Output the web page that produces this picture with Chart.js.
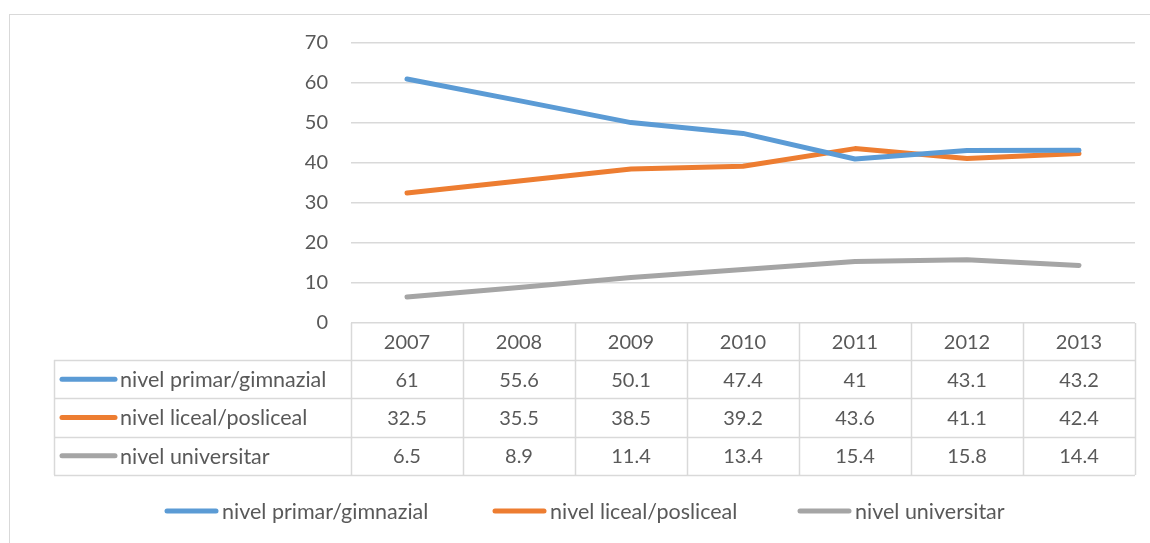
<!DOCTYPE html>
<html>
<head>
<meta charset="utf-8">
<script src="https://cdn.jsdelivr.net/npm/chart.js@4"></script>
<style>
  html, body { margin: 0; padding: 0; background: #fff; }
  #wrap { width: 1150px; height: 543px; position: relative; }
</style>
</head>
<body>
<div id="wrap"><canvas id="chart"></canvas></div>
<script>
const years = ['2007', '2008', '2009', '2010', '2011', '2012', '2013'];
const seriesNames = ['nivel primar/gimnazial', 'nivel liceal/posliceal', 'nivel universitar'];
const primar = [61, 55.6, 50.1, 47.4, 41, 43.1, 43.2];
const liceal = [32.5, 35.5, 38.5, 39.2, 43.6, 41.1, 42.4];
const universitar = [6.5, 8.9, 11.4, 13.4, 15.4, 15.8, 14.4];
const seriesColors = ['#5B9BD5', '#ED7D31', '#A5A5A5'];

const FONT = '20px Lato, "Liberation Sans", sans-serif';
const LABEL_FONT = '21.5px Lato, "Liberation Sans", sans-serif';
const TEXT = '#595959';
const GRID = '#d9d9d9';

// table under the plot + legend at the bottom + outer frame
const tablePlugin = {
    id: 'dataTable',
    beforeDraw(chart) {
        const ctx = chart.ctx;
        ctx.save();
        ctx.strokeStyle = GRID;
        ctx.lineWidth = 1;
        ctx.strokeRect(9.5, 14.5, 1200, 600);
        ctx.restore();
    },
    afterDraw(chart) {
        const ctx = chart.ctx;
        const x = chart.scales.x;
        const area = chart.chartArea;
        const all = [primar, liceal, universitar];
        const headerH = 37;
        const rowH = 38.3;
        const labelLeft = 54;
        const top = area.bottom;
        const rowsTop = top + headerH;
        const bottom = rowsTop + rowH * all.length;
        const colW = (area.right - area.left) / years.length;

        ctx.save();
        ctx.strokeStyle = GRID;
        ctx.lineWidth = 1.5;
        ctx.beginPath();
        // vertical column lines
        for (let i = 0; i <= years.length; i++) {
            const cx = Math.round(area.left + i * colW) + 0.5;
            ctx.moveTo(cx, top);
            ctx.lineTo(cx, bottom);
        }
        ctx.moveTo(labelLeft + 0.5, rowsTop);
        ctx.lineTo(labelLeft + 0.5, bottom);
        // horizontal row lines
        for (let r = 0; r <= all.length; r++) {
            const cy = Math.round(rowsTop + r * rowH) + 0.5;
            ctx.moveTo(labelLeft, cy);
            ctx.lineTo(area.right, cy);
        }
        ctx.stroke();

        ctx.font = FONT;
        ctx.fillStyle = TEXT;
        ctx.textAlign = 'center';
        ctx.textBaseline = 'middle';
        years.forEach((y, i) => {
            ctx.fillText(y, x.getPixelForTick(i), top + headerH / 2 + 1);
        });
        all.forEach((vals, r) => {
            const cy = rowsTop + r * rowH + rowH / 2 + 1;
            vals.forEach((v, i) => {
                ctx.fillText(String(v), x.getPixelForTick(i), cy);
            });
        });

        // row labels with line swatches
        ctx.font = LABEL_FONT;
        ctx.textAlign = 'left';
        ctx.lineCap = 'round';
        all.forEach((vals, r) => {
            const cy = rowsTop + r * rowH + rowH / 2;
            ctx.strokeStyle = seriesColors[r];
            ctx.lineWidth = 5;
            ctx.beginPath();
            ctx.moveTo(62, cy);
            ctx.lineTo(115, cy);
            ctx.stroke();
            ctx.fillStyle = TEXT;
            ctx.fillText(seriesNames[r], 120, cy + 1);
        });

        // legend
        const legendX = [165, 493, 798];
        const ly = 511;
        seriesNames.forEach((n, i) => {
            const lx = legendX[i];
            ctx.strokeStyle = seriesColors[i];
            ctx.lineWidth = 5;
            ctx.beginPath();
            ctx.moveTo(lx + 2, ly);
            ctx.lineTo(lx + 51, ly);
            ctx.stroke();
            ctx.fillStyle = TEXT;
            ctx.fillText(n, lx + 57, ly + 1);
        });
        ctx.restore();
    }
};

const lineSet = (label, data, color) => ({
    label: label,
    data: data,
    borderColor: color,
    backgroundColor: color,
    borderWidth: 5,
    tension: 0,
    fill: false,
    pointRadius: 0,
    borderCapStyle: 'round',
    borderJoinStyle: 'round'
});

new Chart(document.getElementById('chart'), {
    type: 'line',
    data: {
        labels: years,
        datasets: [
            lineSet(seriesNames[0], primar, seriesColors[0]),
            lineSet(seriesNames[1], liceal, seriesColors[1]),
            lineSet(seriesNames[2], universitar, seriesColors[2])
        ]
    },
    options: {
        responsive: true,
        maintainAspectRatio: false,
        animation: false,
        layout: {
            padding: { top: 43, right: 15, bottom: 0, left: 0 }
        },
        scales: {
            x: {
                offset: true,
                ticks: { display: false },
                grid: { display: false, drawTicks: false },
                border: { display: false },
                afterFit: (scale) => { scale.height = 220; }
            },
            y: {
                min: 0,
                max: 70,
                ticks: {
                    stepSize: 10,
                    padding: 23,
                    color: TEXT,
                    font: { family: 'Lato, "Liberation Sans", sans-serif', size: 20 }
                },
                grid: { color: GRID, lineWidth: 1.5, drawTicks: false },
                border: { display: false },
                afterFit: (scale) => { scale.width = 351; }
            }
        },
        plugins: {
            legend: { display: false },
            tooltip: { enabled: false }
        }
    },
    plugins: [tablePlugin]
});
</script>
</body>
</html>
